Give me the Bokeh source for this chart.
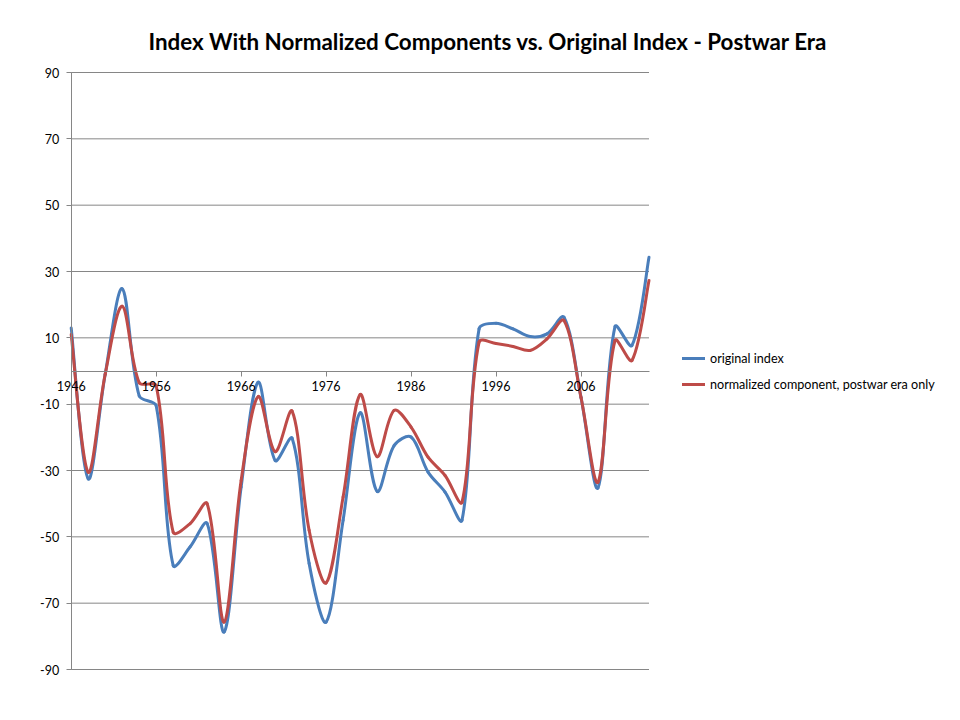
import math
from bokeh.plotting import figure
from bokeh.models import FixedTicker, Legend, LegendItem, ColumnDataSource, Range1d
from bokeh.embed import file_html
from bokeh.resources import INLINE

# ---- data ----
years = list(range(1946, 2015, 2))
original_index = [13, -32.5, -1, 24.8, -7.5, -10.5, -58.6, -53, -46, -78.7,
                  -35, -3.4, -27, -20.3, -58, -75.7, -45, -12.6, -36.3, -22.5,
                  -19.9, -30.5, -36.5, -44.9, 12.7, 14.4, 12.7, 10.4, 11.2, 16.2,
                  -8, -35.2, 13.4, 7.7, 34.3]
normalized_component = [11, -30.5, -1, 19.5, -3.5, -4.5, -48.6, -46, -40, -75.7,
                        -33, -7.7, -24.3, -12.1, -48, -63.9, -38, -7.1, -25.8, -11.9,
                        -16.9, -26, -31.5, -39.5, 8.7, 8.3, 7.4, 6.2, 9.7, 15.2,
                        -8, -33.5, 9.2, 3.2, 27.3]
x_tick_labels = [1946, 1956, 1966, 1976, 1986, 1996, 2006]
y_ticks = [-90, -70, -50, -30, -10, 10, 30, 50, 70, 90]

TITLE = "Index With Normalized Components vs. Original Index - Postwar Era"
SERIES_NAMES = ["original index", "normalized component, postwar era only"]
COLORS = ["#4A7EBB", "#BE4B48"]
GRAY = "#868686"
FONT = "Lato"

# ---- geometry ----
PX_YEAR = (648.5 - 70.7) / 68.0        # pixels per year
PX_UNIT = (669 - 72) / 180.0           # pixels per index unit
FRAME_LEFT, FRAME_TOP = 34, 60
FRAME_W, FRAME_H = 920, 620
x_start = years[0] - (70.7 - FRAME_LEFT) / PX_YEAR
x_end = x_start + FRAME_W / PX_YEAR
y_end = y_ticks[-1] + (72 - FRAME_TOP) / PX_UNIT
y_start = y_end - FRAME_H / PX_UNIT


def smooth_segments(xs, ys):
    """Smoothed-line Bezier segments; control arms scaled by on-screen segment lengths."""
    n = len(xs)

    def dist(i, j):
        return math.hypot((xs[j] - xs[i]) * PX_YEAR, (ys[j] - ys[i]) * PX_UNIT)

    fwd, bwd = [], []
    for i in range(n):
        i0, i2 = max(i - 1, 0), min(i + 1, n - 1)
        tx, ty = xs[i2] - xs[i0], ys[i2] - ys[i0]
        d01 = dist(i0, i) if i > 0 else 0.0
        d12 = dist(i, i2) if i < n - 1 else 0.0
        tot = d01 + d12
        if i == 0 or i == n - 1:
            ff = fb = 1.0 / 3.0 / 2.0
        else:
            ff = (1.0 / 3.0) * d12 / tot
            fb = (1.0 / 3.0) * d01 / tot
        fwd.append((xs[i] + tx * ff, ys[i] + ty * ff))
        bwd.append((xs[i] - tx * fb, ys[i] - ty * fb))
    d = dict(x0=[], y0=[], x1=[], y1=[], cx0=[], cy0=[], cx1=[], cy1=[])
    for i in range(n - 1):
        d["x0"].append(xs[i]); d["y0"].append(ys[i])
        d["x1"].append(xs[i + 1]); d["y1"].append(ys[i + 1])
        d["cx0"].append(fwd[i][0]); d["cy0"].append(fwd[i][1])
        d["cx1"].append(bwd[i + 1][0]); d["cy1"].append(bwd[i + 1][1])
    return ColumnDataSource(d)


p = figure(frame_width=FRAME_W, frame_height=FRAME_H, output_backend="svg",
           toolbar_location=None,
           x_range=Range1d(x_start, x_end), y_range=Range1d(y_start, y_end),
           min_border_left=FRAME_LEFT, min_border_right=0, min_border_top=FRAME_TOP,
           min_border_bottom=30)
p.background_fill_color = "white"
p.border_fill_color = "white"
p.outline_line_color = None

p.title.text = TITLE
p.title.text_font = FONT
p.title.text_font_style = "bold"
p.title.text_font_size = "22.4px"
p.title.text_color = "black"
p.title.align = "left"
p.title.offset = 114
p.title.standoff = 11

# x axis crossing at zero
xa = p.xaxis[0]
xa.fixed_location = 0
xa.bounds = (years[0], years[-1])
xa.ticker = FixedTicker(ticks=x_tick_labels)
xa.major_label_overrides = {t: str(t) for t in x_tick_labels}
xa.axis_line_color = GRAY
xa.major_tick_line_color = GRAY
xa.major_tick_out = 5
xa.major_tick_in = 0
xa.minor_tick_line_color = None
xa.major_label_text_font = FONT
xa.major_label_text_font_size = "12.5px"
xa.major_label_text_color = "black"
xa.major_label_standoff = 5

ya = p.yaxis[0]
ya.fixed_location = years[0]
ya.bounds = (y_ticks[0], y_ticks[-1])
ya.ticker = FixedTicker(ticks=y_ticks)
ya.major_label_overrides = {t: str(t) for t in y_ticks}
ya.axis_line_color = GRAY
ya.major_tick_line_color = GRAY
ya.major_tick_out = 5
ya.major_tick_in = 0
ya.minor_tick_line_color = None
ya.major_label_text_font = FONT
ya.major_label_text_font_size = "12.5px"
ya.major_label_text_color = "black"
ya.major_label_standoff = 7

p.xgrid.visible = False
p.ygrid.visible = False
# horizontal gridlines spanning the category axis only
p.segment(x0=years[0], x1=years[-1], y0=y_ticks, y1=y_ticks,
          line_color=GRAY, line_width=1)

renderers = []
for ys, c in zip([original_index, normalized_component], COLORS):
    src = smooth_segments(years, ys)
    r = p.bezier(x0="x0", y0="y0", x1="x1", y1="y1", cx0="cx0", cy0="cy0",
                 cx1="cx1", cy1="cy1", source=src, line_color=c, line_width=3,
                 line_cap="round")
    renderers.append(r)

legend = Legend(items=[LegendItem(label=n, renderers=[r]) for n, r in zip(SERIES_NAMES, renderers)],
                location=(682 - FRAME_LEFT, (FRAME_TOP + FRAME_H) - 394), orientation="vertical")
legend.border_line_color = None
legend.background_fill_alpha = 0
legend.padding = 0
legend.margin = 0
legend.spacing = 6
legend.glyph_width = 23
legend.glyph_height = 20
legend.label_height = 20
legend.label_standoff = 5
legend.label_text_font = FONT
legend.label_text_font_size = "12.6px"
legend.label_text_color = "black"
p.add_layout(legend, "center")

open("out.html", "w").write(file_html(p, INLINE))
